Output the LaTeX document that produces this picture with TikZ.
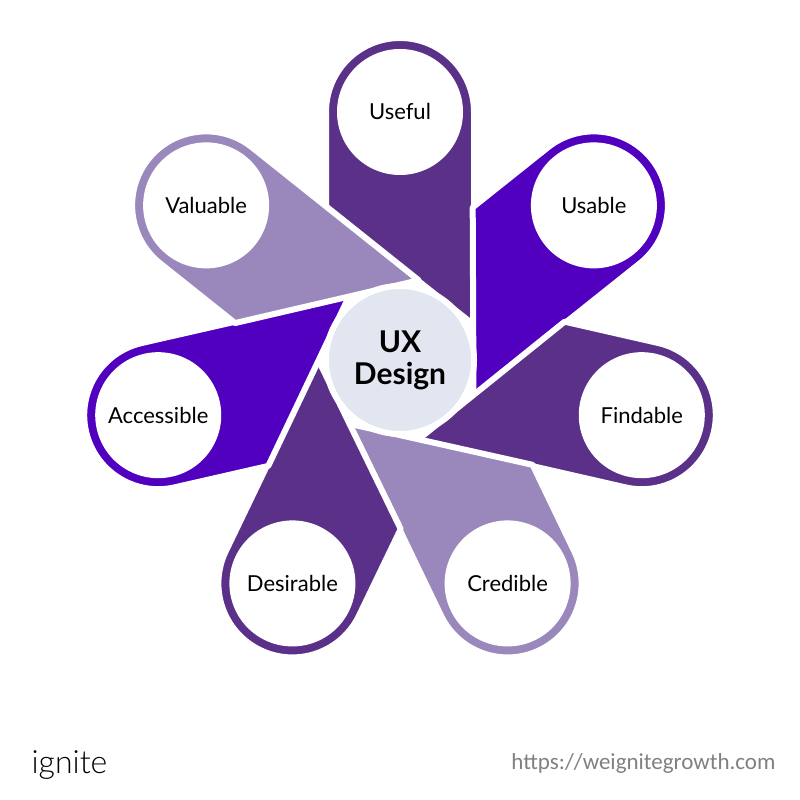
\documentclass[tikz,border=0pt]{standalone}
\usepackage{fontspec}
\setmainfont{Lato}
\newfontfamily\urlfont{Carlito}
\newfontfamily\logofont{Lato Light}
\usetikzlibrary{calc}
\begin{document}
\begin{tikzpicture}[x=1pt,y=1pt]
\definecolor{pdark}{HTML}{5A3088}
\definecolor{pbright}{HTML}{5000BE}
\definecolor{plight}{HTML}{9A88BD}
\definecolor{pcenter}{HTML}{E2E6F0}
\tikzset{petalshape/.style={draw=white,line width=6pt,line join=round},
  lbl/.style={font=\fontsize{22}{26}\selectfont,text=black}}
\useasboundingbox (0,0) rectangle (800,800);
\def\R{248}\def\r{74}
\foreach \k/\c/\t in {0/pdark/Useful,1/pbright/Usable,2/pdark/Findable,3/plight/Credible,4/pdark/Desirable,5/pbright/Accessible,6/plight/Valuable}{
  \pgfmathsetmacro\ang{90-\k*360/7}
  \begin{scope}[shift={(400,440)},rotate=\ang-90]
    \fill[\c,petalshape] (-\r,152) -- (-\r,\R) arc[start angle=180,end angle=0,radius=\r] -- (\r,35) -- cycle;
    \fill[white] (0,\R) circle[radius=63];
  \end{scope}
  \node[lbl] (n\k) at ($(400,440)+(\ang:\R)$) {\t};
}
\fill[pcenter,draw=white,line width=6pt] (400,440) circle[radius=74];
\node[font=\bfseries\fontsize{30}{32}\selectfont,align=center] (c) at (400,440) {UX\\Design};
\node[font=\logofont\fontsize{32}{34}\selectfont,anchor=west] (logo) at (28,35) {ignite};
\node[font=\urlfont\fontsize{23}{26}\selectfont,text=black!50,anchor=east] (url) at (779,37) {https://weignitegrowth.com};
\end{tikzpicture}
\end{document}
